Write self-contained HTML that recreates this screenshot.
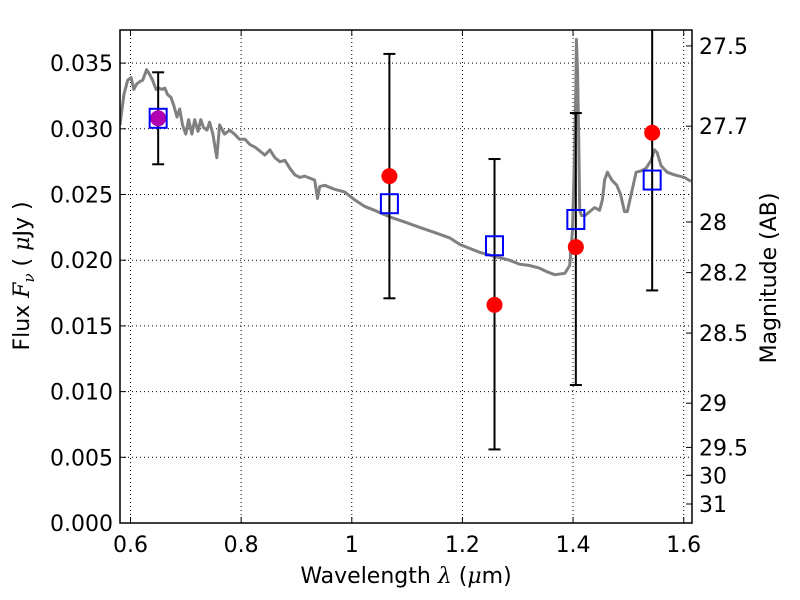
<!DOCTYPE html>
<html><head><meta charset="utf-8"><style>
html,body{margin:0;padding:0;background:#fff}
svg{display:block;font-family:"DejaVu Sans","Liberation Sans",sans-serif}
</style></head><body>
<svg id="c" width="800" height="600" viewBox="0 0 800 600"></svg>
<script>
const specLam=[0.581,0.588,0.595,0.601,0.606,0.611,0.617,0.622,0.629,0.635,0.640,0.646,0.651,0.657,0.662,0.667,0.673,0.678,0.684,0.689,0.694,0.700,0.705,0.711,0.716,0.722,0.727,0.732,0.738,0.743,0.749,0.756,0.761,0.770,0.779,0.788,0.797,0.807,0.816,0.825,0.834,0.843,0.852,0.861,0.870,0.879,0.888,0.897,0.906,0.915,0.933,0.938,0.942,0.951,0.969,0.987,1.005,1.023,1.041,1.068,1.096,1.123,1.150,1.177,1.195,1.213,1.231,1.249,1.267,1.285,1.303,1.321,1.339,1.354,1.367,1.385,1.394,1.399,1.403,1.405,1.406,1.408,1.410,1.412,1.415,1.422,1.430,1.439,1.448,1.453,1.457,1.462,1.470,1.479,1.486,1.493,1.498,1.507,1.514,1.523,1.532,1.541,1.547,1.552,1.559,1.570,1.583,1.601,1.613];
const specFlux=[.0303,.0326,.0337,.0339,.0330,.0334,.0336,.0337,.0345,.0341,.0337,.0330,.0331,.0330,.0331,.0326,.0324,.0318,.0309,.0315,.0303,.0296,.0307,.0296,.0307,.0298,.0307,.0301,.0299,.0305,.0296,.0278,.0303,.0296,.0299,.0296,.0292,.0292,.0288,.0286,.0283,.0280,.0284,.0278,.0275,.0276,.0270,.0265,.0263,.0264,.0261,.0247,.0256,.0257,.0254,.0252,.0246,.0241,.0238,.0233,.0229,.0225,.0221,.0217,.0212,.0209,.0206,.0204,.0202,.0200,.0197,.0196,.0194,.0191,.0189,.0190,.0196,.0223,.0284,.0330,.0368,.0345,.0299,.0238,.0234,.0234,.0237,.0240,.0238,.0246,.0261,.0267,.0261,.0257,.0250,.0237,.0237,.0254,.0267,.0268,.0270,.0276,.0284,.0282,.0272,.0267,.0265,.0263,.0260];
const bandLam=[0.65,1.068,1.258,1.405,1.543];
const modelFlux=[0.0308,0.0243,0.0211,0.0231,0.0261];
const obsFlux=[0.0308,0.0264,0.0166,0.0210,0.0297];
const errLo=[0.0273,0.0171,0.0056,0.0105,0.0177];
const errHi=[0.0343,0.0357,0.0277,0.0312,0.0400];
const xTicks=[0.6,0.8,1.0,1.2,1.4,1.6];
const xTickLabels=["0.6","0.8","1","1.2","1.4","1.6"];
const yTicks=[0,0.005,0.010,0.015,0.020,0.025,0.030,0.035];
const magTicks=[27.5,27.7,28,28.2,28.5,29,29.5,30,31];

const L=120,R=692,T=30,B=523,X0=0.581,X1=1.615,Y0=0,Y1=0.03752;
const sx=v=>L+(v-X0)/(X1-X0)*(R-L);
const sy=v=>B-(v-Y0)/(Y1-Y0)*(B-T);
const svg=document.getElementById('c');
const NS='http://www.w3.org/2000/svg';
function mk(t,a,p){const e=document.createElementNS(NS,t);for(const k in a)e.setAttribute(k,a[k]);(p||svg).appendChild(e);return e;}
const clip=mk('clipPath',{id:'pc'});mk('rect',{x:L,y:T,width:R-L,height:B-T},clip);
xTicks.forEach((v,i)=>{const x=sx(v);
 let g=mk('line',{x1:x,x2:x,y1:T,y2:B,stroke:'#000','stroke-width':1,'stroke-dasharray':'1,3'});
 
 mk('line',{x1:x,x2:x,y1:B,y2:B-6,stroke:'#000'});mk('line',{x1:x,x2:x,y1:T,y2:T+6,stroke:'#000'});
 let t=mk('text',{x:x,y:B+29,'font-size':22,'text-anchor':'middle'});t.textContent=xTickLabels[i];
 });
yTicks.forEach(v=>{const y=sy(v);
 let g=mk('line',{x1:L,x2:R,y1:y,y2:y,stroke:'#000','stroke-width':1,'stroke-dasharray':'1,3'});
 
 mk('line',{x1:L,x2:L+6,y1:y,y2:y,stroke:'#000'});
 let t=mk('text',{x:L-7,y:y+8,'font-size':22,'text-anchor':'end'});t.textContent=v.toFixed(3);
 });
magTicks.forEach(m=>{const f=Math.pow(10,(23.9-m)/2.5);const y=sy(f);
 mk('line',{x1:R,x2:R-6,y1:y,y2:y,stroke:'#000'});
 let t=mk('text',{x:R+7,y:y+8,'font-size':22});t.textContent=String(m);
 });
const g=mk('g',{'clip-path':'url(#pc)'});
let d=specLam.map((l,i)=>(i?'L':'M')+sx(l).toFixed(1)+','+sy(specFlux[i]).toFixed(1)).join('');
let sp=mk('path',{d:d,fill:'none',stroke:'#808080','stroke-width':3,'stroke-linejoin':'round'},g);

bandLam.forEach((l,i)=>{const x=sx(l);
 let e=mk('g',{},g);
 mk('line',{x1:x,x2:x,y1:sy(errLo[i]),y2:sy(errHi[i]),stroke:'#000','stroke-width':2},e);
 mk('line',{x1:x-6,x2:x+6,y1:sy(errLo[i]),y2:sy(errLo[i]),stroke:'#000','stroke-width':2},e);
 mk('line',{x1:x-6,x2:x+6,y1:sy(errHi[i]),y2:sy(errHi[i]),stroke:'#000','stroke-width':2},e);
 let c=mk('circle',{cx:x,cy:sy(obsFlux[i]),r:8,fill:i==0?'#b000b0':'#ff0000'},g);
 
 let s=mk('rect',{x:x-8.5,y:sy(modelFlux[i])-9.5,width:17,height:19,fill:'none',stroke:'#0000ff','stroke-width':2},g);
 });
let fr=mk('rect',{x:L,y:T,width:R-L,height:B-T,fill:'none',stroke:'#000','stroke-width':1.5});

let xl=mk('text',{x:406,y:583,'font-size':22,'text-anchor':'middle'});
xl.innerHTML='Wavelength  <tspan font-style="italic" font-family="DejaVu Serif">λ</tspan> (<tspan font-style="italic" font-family="DejaVu Serif">μ</tspan>m)';

let yl=mk('text',{x:0,y:0,'font-size':22,'text-anchor':'middle',transform:'translate(29,276) rotate(-90)','xml:space':'preserve'});
yl.innerHTML='Flux  <tspan font-style="italic" font-family="DejaVu Serif">F</tspan><tspan font-style="italic" font-size="15" dy="5" font-family="DejaVu Serif">ν</tspan><tspan dy="-5">  (  </tspan><tspan font-style="italic" font-family="DejaVu Serif">μ</tspan>Jy )';

let ml=mk('text',{x:0,y:0,'font-size':22,'text-anchor':'middle',transform:'translate(776,278) rotate(-90)'});
ml.textContent='Magnitude (AB)';

</script>
</body></html>
